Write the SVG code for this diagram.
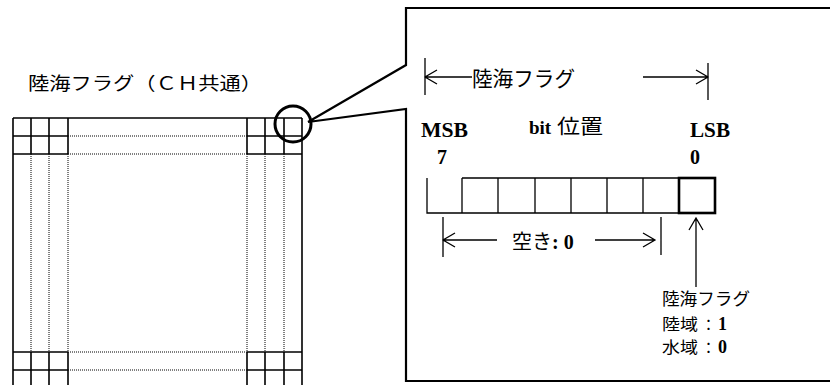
<svg xmlns="http://www.w3.org/2000/svg" width="830" height="385" viewBox="0 0 830 385">
<style>
.s{stroke:#000;fill:none;stroke-width:1.6}
.d{stroke:#000;fill:none;stroke-width:1;stroke-dasharray:1 1}
.t{stroke:#000;fill:none;stroke-width:1.3}
.b{stroke:#000;fill:none;stroke-width:2.2}
.jp{font-family:"Noto Sans CJK JP","Noto Sans",sans-serif;fill:#000}
.sf{font-family:"Liberation Serif",serif;font-weight:bold;fill:#000}
</style>
<rect width="830" height="385" fill="#fff"/>
<g id="title">
<text class="jp" x="28" y="90" font-size="18" textLength="234" lengthAdjust="spacingAndGlyphs">陸海フラグ（ＣＨ共通）</text>
</g>
<g id="grid">
<path class="s" d="M13,118V385M302,118V385M13,118H302M13,136H68M247,136H302M13,154H68M247,154H302M31,118V154M49,118V154M68,118V154M247,118V154M265,118V154M284,118V154M13,352H68M247,352H302M13,370H68M247,370H302M31,352V385M49,352V385M68,352V385M247,352V385M265,352V385M284,352V385"/>
<path class="d" d="M68,136H247M68,154H247M68,352H247M68,370H247M31,154V352M49,154V352M68,154V352M247,154V352M265,154V352M284,154V352"/>
<circle cx="293" cy="124" r="18" fill="none" stroke="#000" stroke-width="3"/>
</g>
<g id="callout">
<path class="b" d="M308,122L406,65V8H832V381H406V109L308,122"/>
</g>
<g id="connectors">
<path class="t" d="M425,58V95M425,77H472M437,70L425,77L437,84M643,77H708M696,70L708,77L696,84M708,63V100"/>
<path class="t" d="M443,217V257M443,240H497M455,233L443,240L455,247M595,240H655M643,233L655,240L643,247M661,217V255"/>
<path class="t" d="M696,287V218M689,230L696,218L703,230"/>
</g>
<g id="bits">
<path class="t" d="M427,178V213H679M462,178H679M462,178V213M498,178V213M535,178V213M571,178V213M607,178V213M643,178V213"/>
<rect x="679" y="178" width="36" height="35" fill="none" stroke="#000" stroke-width="2.6"/>
</g>
<g id="labels">
<text class="jp" x="472" y="86" font-size="21" textLength="103" lengthAdjust="spacingAndGlyphs">陸海フラグ</text>
<text class="sf" x="421" y="137" font-size="20" textLength="47" lengthAdjust="spacingAndGlyphs">MSB</text>
<text class="sf" x="529" y="134" font-size="19">bit</text>
<text class="jp" x="557" y="134" font-size="20" textLength="46" lengthAdjust="spacingAndGlyphs">位置</text>
<text class="sf" x="690" y="137" font-size="20" textLength="40" lengthAdjust="spacingAndGlyphs">LSB</text>
<text class="sf" x="437" y="164" font-size="20">7</text>
<text class="sf" x="690" y="164" font-size="20">0</text>
<text class="jp" x="512" y="249" font-size="20" textLength="40" lengthAdjust="spacingAndGlyphs">空き</text>
<text class="sf" x="552" y="249" font-size="20">: 0</text>
<text class="jp" x="662" y="305" font-size="16.5" textLength="88" lengthAdjust="spacingAndGlyphs">陸海フラグ</text>
<text class="jp" x="662" y="330" font-size="15.5" textLength="36" lengthAdjust="spacingAndGlyphs">陸域</text>
<text class="jp" x="701" y="330" font-size="15">：</text>
<text class="sf" x="718" y="330" font-size="18">1</text>
<text class="jp" x="662" y="353" font-size="15.5" textLength="36" lengthAdjust="spacingAndGlyphs">水域</text>
<text class="jp" x="701" y="353" font-size="15">：</text>
<text class="sf" x="718" y="353" font-size="18">0</text>
</g>
</svg>
